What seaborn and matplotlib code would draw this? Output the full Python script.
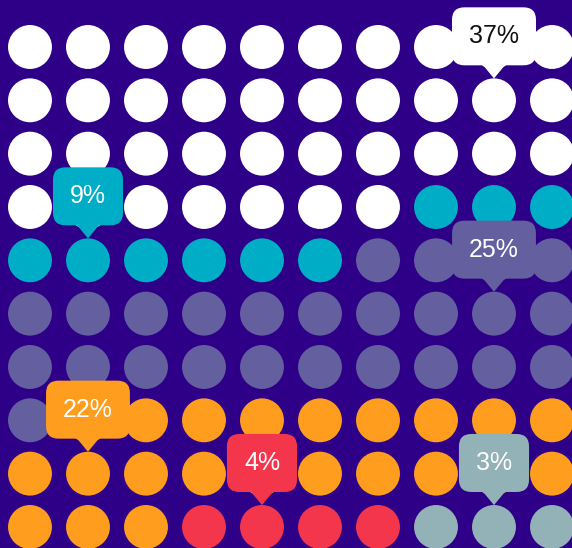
import numpy as np
import pandas as pd
import seaborn as sns
import matplotlib.pyplot as plt
from matplotlib.patches import Polygon

# waffle data: 100 dots split by share
groups = ["A", "B", "C", "D", "E", "F"]
counts = [37, 9, 25, 22, 4, 3]
labels = ["37%", "9%", "25%", "22%", "4%", "3%"]
colors = ["#FFFFFF", "#00ADC6", "#6460A0", "#FF9D1E", "#F4364C", "#93B2B7"]
label_colors = ["#111111", "white", "white", "white", "white", "white"]

n_cols = 10
bg = "#2E0088"

cat = np.repeat(groups, counts)
idx = np.arange(len(cat))
df = pd.DataFrame({"col": idx % n_cols, "row": idx // n_cols, "group": cat})

sns.set_style("white")
plt.rcParams['font.family'] = ['Liberation Sans', 'DejaVu Sans']

fig = plt.figure(figsize=(5.72, 5.48), dpi=100, facecolor=bg)
ax = fig.add_axes([0, 0, 1, 1])
ax.set_facecolor(bg)

sns.scatterplot(data=df, x="col", y="row", hue="group", palette=dict(zip(groups, colors)),
                s=1000, linewidth=0, legend=False, ax=ax, zorder=2)

ax.set_xlim(-0.517, 9.345)
ax.set_ylim(9.394, -0.881)
ax.axis("off")

# tooltips at the middle dot of each group
start = 0
for g, n, lab, c, tc in zip(groups, counts, labels, colors, label_colors):
    k = start + (n - 1) // 2
    cx, cy = k % n_cols, k // n_cols
    tri = Polygon([[cx - 0.235, cy - 0.72], [cx + 0.235, cy - 0.72], [cx, cy - 0.41]],
                  closed=True, facecolor=c, edgecolor="none", zorder=4)
    ax.add_patch(tri)
    ax.text(cx, cy - 1.2, lab, ha="center", va="center", fontsize=18, color=tc, zorder=5,
            bbox=dict(boxstyle="round,pad=0.68,rounding_size=0.5", facecolor=c, edgecolor="none"))
    start += n

fig.savefig("out.png", dpi=100, facecolor=bg)
